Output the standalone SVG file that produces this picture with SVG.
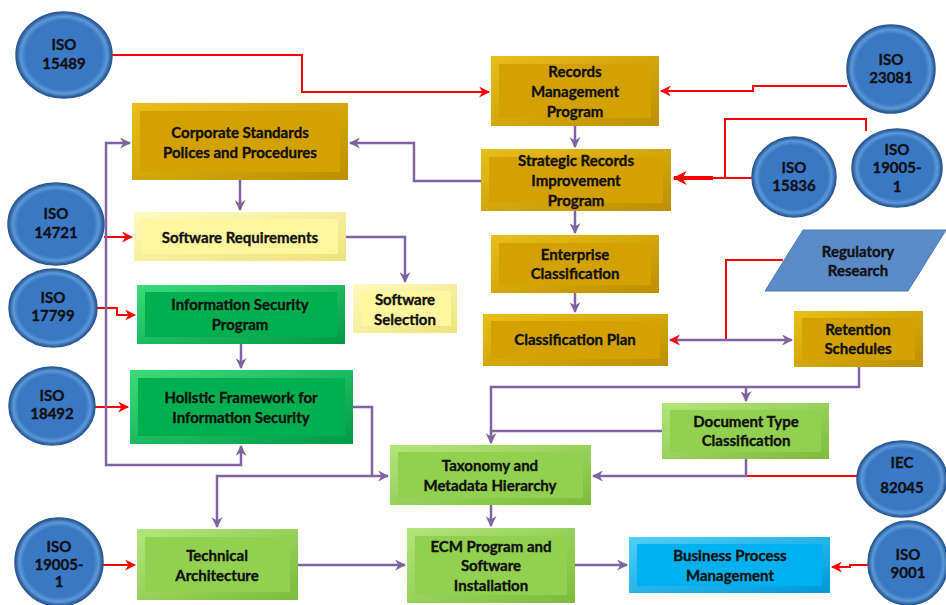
<svg xmlns="http://www.w3.org/2000/svg" width="946" height="605" viewBox="0 0 946 605">
<defs>
<style>
.t{font-family:Lato,"Liberation Sans",sans-serif;font-weight:700;font-size:15px;fill:#111;stroke:#111;stroke-width:0.35;text-anchor:middle}
.p{fill:none;stroke:#8064A2;stroke-width:2.5}
.r{fill:none;stroke:#FF0000;stroke-width:2}
.iso{fill:url(#gb);stroke:#2B5A95;stroke-width:1.5}
.go{fill:url(#gGold)}.gi{fill:#D4A200}
.yo{fill:url(#gYel)}.yi{fill:#FFF69E}
.no{fill:url(#gGrn)}.ni{fill:#00B050}
.lo{fill:url(#gLg)}.li{fill:#92D050}
.co{fill:url(#gCy)}.ci{fill:#00B0F0}
</style>
<radialGradient id="gb" cx="0.5" cy="0.5" r="0.5">
<stop offset="0" stop-color="#3C7BC8"/>
<stop offset="0.8" stop-color="#3A77C2"/>
<stop offset="0.9" stop-color="#5C98DA"/>
<stop offset="1" stop-color="#26548F"/>
</radialGradient>
<linearGradient id="gGold" x1="0" y1="0" x2="1" y2="1"><stop offset="0" stop-color="#E8BE18"/><stop offset="1" stop-color="#BE8F00"/></linearGradient>
<linearGradient id="gYel" x1="0" y1="0" x2="1" y2="1"><stop offset="0" stop-color="#FFFBC0"/><stop offset="1" stop-color="#EDE27A"/></linearGradient>
<linearGradient id="gGrn" x1="0" y1="0" x2="1" y2="1"><stop offset="0" stop-color="#3ADC7A"/><stop offset="1" stop-color="#009A44"/></linearGradient>
<linearGradient id="gLg" x1="0" y1="0" x2="1" y2="1"><stop offset="0" stop-color="#B2E67A"/><stop offset="1" stop-color="#7CBC3C"/></linearGradient>
<linearGradient id="gCy" x1="0" y1="0" x2="1" y2="1"><stop offset="0" stop-color="#4CD0FA"/><stop offset="1" stop-color="#0098D8"/></linearGradient>
<marker id="ap" markerUnits="userSpaceOnUse" markerWidth="11" markerHeight="11" viewBox="0 0 10 10" refX="9" refY="5" orient="auto-start-reverse"><path d="M0,0 L10,5 L0,10 L3,5 Z" fill="#8064A2"/></marker>
<marker id="ar" markerUnits="userSpaceOnUse" markerWidth="11" markerHeight="11" viewBox="0 0 10 10" refX="9" refY="5" orient="auto-start-reverse"><path d="M0,0 L10,5 L0,10 L3,5 Z" fill="#FF0000"/></marker>
<marker id="arb" markerUnits="userSpaceOnUse" markerWidth="14" markerHeight="14" viewBox="0 0 10 10" refX="9" refY="5" orient="auto"><path d="M0,0 L10,5 L0,10 L3,5 Z" fill="#FF0000"/></marker>
</defs>

<g id="connectors">
<path class="r" d="M112,55 H302 V92 H489" marker-end="url(#ar)"/>
<path class="r" d="M847,86 H753 V91 H661" marker-end="url(#ar)"/>
<path class="r" d="M866,131 V119 H725 V178"/>
<path class="r" d="M752,178 H712"/>
<path d="M713,178 H674" fill="none" stroke="#FF0000" stroke-width="4" marker-end="url(#arb)"/>
<path class="r" d="M104,237 H132" marker-end="url(#ar)"/>
<path class="r" d="M97,308 H117 V315 H135" marker-end="url(#ar)"/>
<path class="r" d="M94,407 H128" marker-end="url(#ar)"/>
<path class="r" d="M103,565 H135" marker-end="url(#ar)"/>
<path class="r" d="M857,476 H746"/>
<path class="r" d="M869,565 H850 V567 H832" marker-end="url(#ar)"/>
<path class="r" d="M783,260 H726 V340"/>
<path class="p" d="M575,126 V147" marker-end="url(#ap)"/>
<path class="p" d="M481,181 H414 V143 H350" marker-end="url(#ap)"/>
<path class="p" d="M575,211 V233" marker-end="url(#ap)"/>
<path class="p" d="M575,293 V312" marker-end="url(#ap)"/>
<path class="p" d="M240,180 V210" marker-end="url(#ap)"/>
<path class="p" d="M346,237 H405 V282" marker-end="url(#ap)"/>
<path class="p" d="M241,344 V368" marker-end="url(#ap)"/>
<path class="p" d="M130,143 H106 V465 H241 V446" marker-start="url(#ap)" marker-end="url(#ap)"/>
<path class="p" d="M353,407 H372 V476 H388" marker-end="url(#ap)"/>
<path class="p" d="M372,476 H217 V527" marker-end="url(#ap)"/>
<path class="p" d="M859,367 V387 H491 V443" marker-end="url(#ap)"/>
<path class="p" d="M746,387 V401" marker-end="url(#ap)"/>
<path class="p" d="M662,431 H491"/>
<path class="p" d="M746,459 V476 H593" marker-end="url(#ap)"/>
<path d="M670,340 H792" fill="none" stroke="#8064A2" stroke-width="2.5" marker-start="url(#ar)" marker-end="url(#ap)"/>
<path class="p" d="M491,505 V526" marker-end="url(#ap)"/>
<path class="p" d="M298,565 H405" marker-end="url(#ap)"/>
<path class="p" d="M575,565 H627" marker-end="url(#ap)"/>
</g>

<g id="iso15489"><ellipse class="iso" cx="64" cy="55" rx="48" ry="43"/><text class="t" x="64" y="50">ISO</text><text class="t" x="64" y="69">15489</text></g>
<g id="iso23081"><ellipse class="iso" cx="891" cy="69" rx="44" ry="44"/><text class="t" x="891" y="65">ISO</text><text class="t" x="891" y="83">23081</text></g>
<g id="iso19005a"><ellipse class="iso" cx="897" cy="168" rx="45" ry="39"/><text class="t" x="897" y="155">ISO</text><text class="t" x="897" y="173">19005-</text><text class="t" x="897" y="192">1</text></g>
<g id="iso15836"><ellipse class="iso" cx="794" cy="177" rx="42" ry="40"/><text class="t" x="794" y="173">ISO</text><text class="t" x="794" y="191">15836</text></g>
<g id="iso14721"><ellipse class="iso" cx="56" cy="224" rx="48" ry="41"/><text class="t" x="56" y="219">ISO</text><text class="t" x="56" y="238">14721</text></g>
<g id="iso17799"><ellipse class="iso" cx="53" cy="308" rx="44" ry="39"/><text class="t" x="53" y="303">ISO</text><text class="t" x="53" y="321">17799</text></g>
<g id="iso18492"><ellipse class="iso" cx="52" cy="406" rx="43" ry="39"/><text class="t" x="52" y="401">ISO</text><text class="t" x="52" y="419">18492</text></g>
<g id="iso19005b"><ellipse class="iso" cx="59" cy="562" rx="44" ry="44"/><text class="t" x="59" y="552">ISO</text><text class="t" x="59" y="570">19005-</text><text class="t" x="59" y="587">1</text></g>
<g id="iec82045"><ellipse class="iso" cx="902" cy="479" rx="45" ry="38"/><text class="t" x="902" y="468">IEC</text><text class="t" x="902" y="493">82045</text></g>
<g id="iso9001"><ellipse class="iso" cx="908" cy="563" rx="40" ry="42"/><text class="t" x="908" y="560">ISO</text><text class="t" x="908" y="578">9001</text></g>

<g id="rmp"><rect class="go" x="491" y="56" width="168" height="70"/><rect class="gi" x="499" y="64" width="152" height="54"/><text class="t" x="575" y="77">Records</text><text class="t" x="575" y="97">Management</text><text class="t" x="575" y="117">Program</text></g>
<g id="srip"><rect class="go" x="481" y="149" width="190" height="62"/><rect class="gi" x="489" y="157" width="174" height="46"/><text class="t" x="576" y="166">Strategic Records</text><text class="t" x="576" y="186">Improvement</text><text class="t" x="576" y="206">Program</text></g>
<g id="corp"><rect class="go" x="132" y="103" width="216" height="77"/><rect class="gi" x="140" y="111" width="200" height="61"/><text class="t" x="240" y="138">Corporate Standards</text><text class="t" x="240" y="158">Polices and Procedures</text></g>
<g id="swreq"><rect class="yo" x="134" y="212" width="212" height="49"/><rect class="yi" x="142" y="219" width="196" height="35"/><text class="t" x="240" y="243">Software Requirements</text></g>
<g id="swsel"><rect class="yo" x="353" y="284" width="104" height="49"/><rect class="yi" x="361" y="291" width="90" height="35"/><text class="t" x="405" y="305">Software</text><text class="t" x="405" y="325">Selection</text></g>
<g id="isp"><rect class="no" x="137" y="285" width="208" height="59"/><rect class="ni" x="145" y="292" width="192" height="45"/><text class="t" x="240" y="310">Information Security</text><text class="t" x="240" y="330">Program</text></g>
<g id="holistic"><rect class="no" x="130" y="370" width="223" height="74"/><rect class="ni" x="138" y="378" width="207" height="58"/><text class="t" x="241" y="403">Holistic Framework for</text><text class="t" x="241" y="423">Information Security</text></g>
<g id="enterprise"><rect class="go" x="491" y="235" width="168" height="58"/><rect class="gi" x="499" y="243" width="152" height="42"/><text class="t" x="575" y="260">Enterprise</text><text class="t" x="575" y="279">Classification</text></g>
<g id="classplan"><rect class="go" x="483" y="314" width="185" height="52"/><rect class="gi" x="491" y="321" width="169" height="38"/><text class="t" x="575" y="345">Classification Plan</text></g>
<g id="regulatory"><polygon points="803,230 946,230 908,291 765,291" fill="#5A8BC6" stroke="#4A7AB4" stroke-width="1"/><text class="t" x="858" y="257">Regulatory</text><text class="t" x="858" y="276">Research</text></g>
<g id="retention"><rect class="go" x="794" y="311" width="129" height="56"/><rect class="gi" x="802" y="318" width="113" height="42"/><text class="t" x="858" y="335">Retention</text><text class="t" x="858" y="354">Schedules</text></g>
<g id="doctype"><rect class="lo" x="662" y="403" width="167" height="56"/><rect class="li" x="670" y="410" width="151" height="42"/><text class="t" x="746" y="427">Document Type</text><text class="t" x="746" y="446">Classification</text></g>
<g id="taxonomy"><rect class="lo" x="390" y="445" width="201" height="60"/><rect class="li" x="398" y="452" width="185" height="46"/><text class="t" x="490" y="471">Taxonomy and</text><text class="t" x="490" y="491">Metadata Hierarchy</text></g>
<g id="techarch"><rect class="lo" x="137" y="529" width="161" height="71"/><rect class="li" x="145" y="537" width="145" height="55"/><text class="t" x="217" y="561">Technical</text><text class="t" x="217" y="581">Architecture</text></g>
<g id="ecm"><rect class="lo" x="407" y="528" width="168" height="75"/><rect class="li" x="415" y="536" width="152" height="59"/><text class="t" x="491" y="552">ECM Program and</text><text class="t" x="491" y="571">Software</text><text class="t" x="491" y="591">Installation</text></g>
<g id="bpm"><rect class="co" x="629" y="537" width="201" height="56"/><rect class="ci" x="637" y="544" width="185" height="42"/><text class="t" x="730" y="561">Business Process</text><text class="t" x="730" y="581">Management</text></g>
</svg>
